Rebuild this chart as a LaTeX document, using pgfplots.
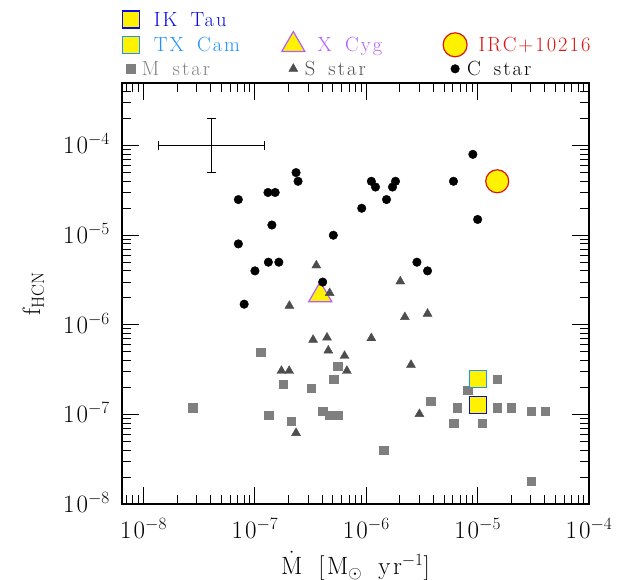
\documentclass[border=0pt]{standalone}
\usepackage{fontspec}
\usepackage{pgfplots}
\pgfplotsset{compat=1.18}
\definecolor{mgray}{HTML}{7F7F7F}
\definecolor{sgray}{HTML}{4D4D4D}
\definecolor{ikblue}{HTML}{0A0AE6}
\definecolor{txblue}{HTML}{1E90FF}
\definecolor{xpurple}{HTML}{B35CFF}
\definecolor{ircred}{HTML}{DC1414}
\newfontfamily\spacedfont{Latin Modern Roman}[LetterSpace=10, WordSpace=1.6]
\newfontfamily\tickspfont{Latin Modern Roman}[LetterSpace=8]
\newcommand\myfont{\fontsize{20.5bp}{24bp}\spacedfont}
\newcommand\tickfont{\fontsize{25bp}{28bp}\tickspfont}
\newcommand\labfont{\fontsize{25bp}{28bp}\spacedfont}
\begin{document}
\begin{tikzpicture}
\useasboundingbox (0,0) rectangle (618bp,580bp);
\begin{axis}[
  at={(122bp,76bp)}, anchor=south west,
  width=467bp, height=421bp, scale only axis,
  xmode=log, ymode=log,
  xmin=6.4e-9, xmax=1e-4, ymin=1e-8, ymax=5e-4,
  xtick={1e-8,1e-7,1e-6,1e-5,1e-4},
  xticklabels={{10$^{-8}$},{10$^{-7}$},{10$^{-6}$},{10$^{-5}$},{10$^{-4}$}},
  ytick={1e-8,1e-7,1e-6,1e-5,1e-4},
  yticklabels={{10$^{-8}$},{10$^{-7}$},{10$^{-6}$},{10$^{-5}$},{10$^{-4}$}},
  minor xtick={7e-9,8e-9,9e-9,2e-8,3e-8,4e-8,5e-8,6e-8,7e-8,8e-8,9e-8,2e-7,3e-7,4e-7,5e-7,6e-7,7e-7,8e-7,9e-7,2e-6,3e-6,4e-6,5e-6,6e-6,7e-6,8e-6,9e-6,2e-5,3e-5,4e-5,5e-5,6e-5,7e-5,8e-5,9e-5},
  minor ytick={2e-8,3e-8,4e-8,5e-8,6e-8,7e-8,8e-8,9e-8,2e-7,3e-7,4e-7,5e-7,6e-7,7e-7,8e-7,9e-7,2e-6,3e-6,4e-6,5e-6,6e-6,7e-6,8e-6,9e-6,2e-5,3e-5,4e-5,5e-5,6e-5,7e-5,8e-5,9e-5,2e-4,3e-4,4e-4},
  xtick pos=both, ytick pos=both,
  xticklabel pos=bottom, yticklabel pos=left,
  major tick length=17bp, minor tick length=9bp,
  every tick/.style={black, line width=0.9bp},
  axis line style={line width=1.2bp},
  xticklabel style={font=\tickfont, anchor=base, yshift=-34bp, inner sep=0pt},
  yticklabel style={font=\tickfont, anchor=base east, xshift=-12bp, yshift=-8.3bp, inner sep=0pt},
  xlabel={$\dot{\mathrm{M}}$ [M$_\odot$ yr$^{-1}$]},
  ylabel={f$_{\mathrm{HCN}}$},
  xlabel style={font=\labfont, at={(axis description cs:0.5,-0.167)}, anchor=base},
  ylabel style={font=\labfont, at={(axis description cs:-0.19,0.5)}, anchor=center},
  legend columns=3,
  legend style={at={(axis description cs:0,1)}, anchor=south west, yshift=5bp,
    draw=none, fill=none, inner sep=0pt, row sep=3bp, column sep=0pt,
    font=\myfont, nodes={inner sep=0pt, text height=16bp, text depth=2bp}},
]
% legend images
\addlegendimage{only marks, mark=square*, mark size=8.5bp, mark options={fill=yellow, draw=ikblue, line width=1.2bp}}
\addlegendentry{\makebox[142.6bp][l]{\hspace{14.7bp}\textcolor{ikblue}{IK Tau}}}
\addlegendimage{empty legend}
\addlegendentry{\makebox[138.3bp][l]{}}
\addlegendimage{empty legend}
\addlegendentry{\makebox[130bp][l]{}}
\addlegendimage{only marks, mark=square*, mark size=8.5bp, mark options={fill=yellow, draw=txblue, line width=1.2bp}}
\addlegendentry{\makebox[142.6bp][l]{\hspace{14.7bp}\textcolor{txblue}{TX Cam}}}
\addlegendimage{only marks, mark=triangle*, mark size=13.3bp, mark options={fill=yellow, draw=xpurple, line width=1.2bp}}
\addlegendentry{\makebox[138.3bp][l]{\hspace{12.9bp}\textcolor{xpurple}{X Cyg}}}
\addlegendimage{only marks, mark=*, mark size=12bp, mark options={fill=yellow, draw=ircred, line width=1.2bp}}
\addlegendentry{\makebox[130bp][l]{\hspace{11.4bp}\textcolor{ircred}{IRC+10216}}}
\addlegendimage{only marks, mark=square*, mark size=4.3bp, mark options={fill=mgray, draw=mgray}}
\addlegendentry{\makebox[142.6bp][l]{\hspace{2.8bp}\textcolor{mgray}{M star}}}
\addlegendimage{only marks, mark=triangle*, mark size=5.2bp, mark options={fill=sgray, draw=sgray}}
\addlegendentry{\makebox[138.3bp][l]{\hspace{0bp}\textcolor{sgray}{S star}}}
\addlegendimage{only marks, mark=*, mark size=4.3bp, mark options={fill=black, draw=black}}
\addlegendentry{\makebox[130bp][l]{\hspace{0bp}C star}}
% typical error bar
\addplot[forget plot, black, line width=0.9bp, mark=|, mark size=4.5bp, mark options={solid}] coordinates {(1.37e-8,1e-4) (1.22e-7,1e-4)};
\addplot[forget plot, black, line width=0.9bp, mark=-, mark size=4.5bp, mark options={solid}] coordinates {(4.1e-8,5e-5) (4.1e-8,2e-4)};
% M stars
\addplot[forget plot, only marks, mark=square*, mark size=4.3bp, mgray] coordinates {
(2.75e-8,1.19e-7) (1.13e-7,4.95e-7) (1.33e-7,9.8e-8) (1.8e-7,2.17e-7) (2.12e-7,8.4e-8)
(3.21e-7,1.96e-7) (4.06e-7,1.09e-7) (4.66e-7,9.8e-8) (5.53e-7,9.8e-8) (5.1e-7,2.47e-7)
(5.53e-7,3.45e-7) (1.43e-6,3.97e-8) (3.77e-6,1.41e-7) (6.07e-6,8e-8) (6.55e-6,1.19e-7)
(8.1e-6,1.86e-7) (1.1e-5,8e-8) (1.5e-5,2.47e-7) (1.5e-5,1.19e-7) (2.01e-5,1.19e-7)
(3.02e-5,1.09e-7) (4.05e-5,1.09e-7) (3.02e-5,1.8e-8)};
% special M stars
\addplot[forget plot, only marks, mark=square*, mark size=8.5bp, mark options={fill=yellow, draw=ikblue, line width=1.2bp}] coordinates {(1e-5,1.28e-7)};
\addplot[forget plot, only marks, mark=square*, mark size=8.5bp, mark options={fill=yellow, draw=txblue, line width=1.2bp}] coordinates {(1e-5,2.5e-7)};
% X Cyg
\addplot[forget plot, only marks, mark=triangle*, mark size=13.3bp, mark options={fill=yellow, draw=xpurple, line width=1.2bp}] coordinates {(3.86e-7,2.15e-6)};
% S stars
\addplot[forget plot, only marks, mark=triangle*, mark size=5.2bp, sgray] coordinates {
(3.56e-7,4.6e-6) (4.69e-7,2.26e-6) (2.04e-7,1.63e-6) (2.02e-6,3.05e-6) (2.22e-6,1.22e-6)
(3.55e-6,1.33e-6) (1.11e-6,7.1e-7) (3.33e-7,6.8e-7) (4.44e-7,7.2e-7) (4.56e-7,5.16e-7)
(6.38e-7,4.5e-7) (6.7e-7,3.06e-7) (1.73e-7,3.06e-7) (2.03e-7,3.06e-7) (2.34e-7,6.2e-8)
(2.52e-6,3.57e-7) (3.0e-6,1.01e-7)};
% C stars
\addplot[forget plot, only marks, mark=*, mark size=4.3bp, black] coordinates {
(7.1e-8,2.5e-5) (7.1e-8,8e-6) (1.0e-7,4e-6) (8.0e-8,1.7e-6) (1.31e-7,3e-5) (1.52e-7,3e-5)
(1.42e-7,1.3e-5) (1.32e-7,5e-6) (1.64e-7,5e-6) (2.34e-7,5e-5) (2.44e-7,4e-5) (5.06e-7,1e-5)
(4.06e-7,3e-6) (9.1e-7,2e-5) (1.11e-6,4e-5) (1.21e-6,3.45e-5) (1.52e-6,2.5e-5) (1.72e-6,3.45e-5)
(1.83e-6,4e-5) (2.85e-6,5e-6) (3.55e-6,4e-6) (6.07e-6,4e-5) (9.06e-6,8e-5) (1.0e-5,1.5e-5)};
% IRC+10216
\addplot[forget plot, only marks, mark=*, mark size=11.5bp, mark options={fill=yellow, draw=ircred, line width=1.2bp}] coordinates {(1.5e-5,4e-5)};
\end{axis}
\end{tikzpicture}
\end{document}
